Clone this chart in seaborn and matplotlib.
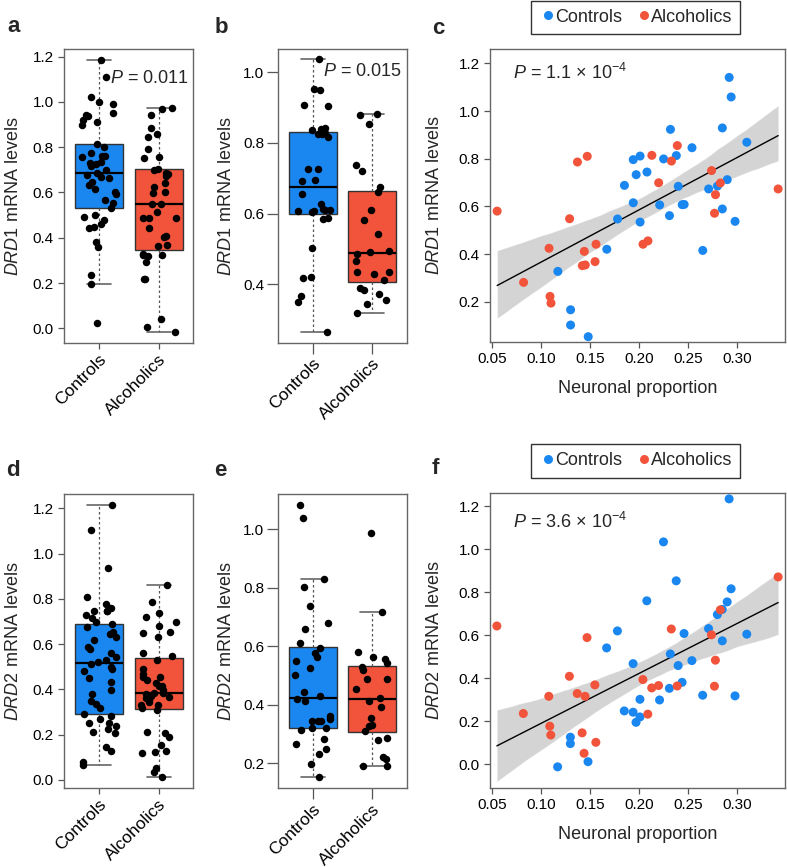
import numpy as np
import pandas as pd
import matplotlib
matplotlib.use("Agg")
import matplotlib.pyplot as plt
import seaborn as sns

BLUE = "#1a87f0"
RED = "#f2533b"
GROUPS = ["Controls", "Alcoholics"]

# box panels: mRNA levels per subject
a_controls = [1.186, 1.109, 1.024, 0.999, 0.990, 0.953, 0.943, 0.938, 0.920, 0.913, 0.898,
              0.813, 0.803, 0.773, 0.763, 0.761, 0.756, 0.736, 0.732, 0.728, 0.719, 0.700,
              0.686, 0.677, 0.670, 0.663, 0.648, 0.633, 0.614, 0.604, 0.594, 0.567, 0.552,
              0.530, 0.501, 0.493, 0.479, 0.461, 0.449, 0.442, 0.380, 0.361, 0.236, 0.194, 0.022]
a_alcoholics = [0.972, 0.970, 0.943, 0.884, 0.859, 0.847, 0.791, 0.756, 0.751, 0.705, 0.700,
                0.688, 0.682, 0.673, 0.641, 0.623, 0.604, 0.596, 0.549, 0.549, 0.513, 0.486,
                0.486, 0.486, 0.442, 0.409, 0.402, 0.368, 0.364, 0.326, 0.328, 0.324, 0.320,
                0.295, 0.216, 0.216, 0.040, 0.004, -0.018]
b_controls = [1.037, 0.952, 0.950, 0.908, 0.906, 0.843, 0.839, 0.836, 0.828, 0.824, 0.824,
              0.817, 0.725, 0.725, 0.694, 0.692, 0.657, 0.628, 0.612, 0.611, 0.609, 0.608,
              0.607, 0.604, 0.588, 0.586, 0.504, 0.420, 0.417, 0.367, 0.351, 0.266]
b_alcoholics = [0.881, 0.879, 0.853, 0.738, 0.722, 0.675, 0.662, 0.610, 0.582, 0.542, 0.495,
                0.491, 0.486, 0.467, 0.434, 0.434, 0.429, 0.412, 0.390, 0.384, 0.373, 0.356,
                0.344, 0.318]
d_controls = [1.215, 1.104, 0.938, 0.810, 0.777, 0.761, 0.746, 0.746, 0.746, 0.727, 0.717,
              0.696, 0.688, 0.677, 0.652, 0.645, 0.630, 0.618, 0.589, 0.579, 0.562, 0.542,
              0.530, 0.520, 0.511, 0.498, 0.489, 0.483, 0.449, 0.434, 0.398, 0.378, 0.350,
              0.336, 0.319, 0.292, 0.283, 0.268, 0.250, 0.250, 0.240, 0.225, 0.212, 0.206,
              0.144, 0.128, 0.077, 0.066]
d_alcoholics = [0.861, 0.788, 0.739, 0.721, 0.699, 0.682, 0.655, 0.648, 0.630, 0.559, 0.549,
                0.530, 0.490, 0.470, 0.456, 0.456, 0.440, 0.430, 0.417, 0.415, 0.398, 0.386,
                0.383, 0.378, 0.370, 0.368, 0.364, 0.355, 0.346, 0.331, 0.330, 0.319, 0.309,
                0.213, 0.209, 0.191, 0.155, 0.128, 0.125, 0.121, 0.054, 0.034, 0.012]
e_controls = [1.083, 1.038, 0.830, 0.804, 0.739, 0.679, 0.658, 0.610, 0.595, 0.578, 0.565,
              0.550, 0.527, 0.504, 0.443, 0.430, 0.419, 0.414, 0.363, 0.352, 0.345, 0.345,
              0.345, 0.322, 0.320, 0.314, 0.285, 0.268, 0.248, 0.231, 0.197, 0.152]
e_alcoholics = [0.989, 0.719, 0.582, 0.565, 0.556, 0.542, 0.530, 0.521, 0.487, 0.487, 0.454,
                0.425, 0.415, 0.394, 0.357, 0.331, 0.329, 0.312, 0.288, 0.280, 0.223, 0.214,
                0.191, 0.191]

# scatter panels: neuronal proportion vs mRNA level
ctrl_prop = [0.117, 0.130, 0.130, 0.148, 0.167, 0.178, 0.185, 0.194, 0.194, 0.197, 0.201,
             0.201, 0.208, 0.221, 0.225, 0.231, 0.232, 0.238, 0.240, 0.244, 0.246, 0.254,
             0.265, 0.271, 0.280, 0.285, 0.285, 0.290, 0.292, 0.294, 0.298, 0.310]
ctrl_drd1 = [0.327, 0.166, 0.102, 0.053, 0.420, 0.547, 0.688, 0.796, 0.615, 0.733, 0.811,
             0.534, 0.744, 0.606, 0.799, 0.561, 0.923, 0.813, 0.684, 0.607, 0.608, 0.846,
             0.415, 0.673, 0.685, 0.929, 0.589, 0.712, 1.141, 1.059, 0.537, 0.869]
ctrl_drd2 = [-0.012, 0.126, 0.096, 0.012, 0.541, 0.620, 0.248, 0.468, 0.242, 0.195, 0.302,
             0.220, 0.760, 0.299, 1.034, 0.353, 0.513, 0.853, 0.459, 0.381, 0.608, 0.482,
             0.321, 0.631, 0.696, 0.574, 0.720, 0.755, 1.234, 0.816, 0.318, 0.605]
alc_prop = [0.055, 0.082, 0.108, 0.109, 0.110, 0.129, 0.137, 0.142, 0.144, 0.145, 0.147,
            0.155, 0.156, 0.204, 0.209, 0.213, 0.220, 0.233, 0.239, 0.274, 0.277, 0.278,
            0.283, 0.342]
alc_drd1 = [0.580, 0.281, 0.424, 0.222, 0.194, 0.548, 0.786, 0.351, 0.411, 0.354, 0.810,
            0.368, 0.441, 0.441, 0.455, 0.814, 0.699, 0.790, 0.855, 0.750, 0.571, 0.649,
            0.698, 0.673]
alc_drd2 = [0.643, 0.236, 0.316, 0.177, 0.136, 0.409, 0.329, 0.146, 0.051, 0.316, 0.589,
            0.369, 0.102, 0.394, 0.233, 0.355, 0.366, 0.629, 0.364, 0.602, 0.363, 0.484,
            0.718, 0.871]

W, H = 787, 867


def rect(left, right, top, bottom):
    return [left / W, 1 - bottom / H, (right - left) / W, (bottom - top) / H]


def style_axes(ax, ticklen, pad):
    for sp in ax.spines.values():
        sp.set_visible(True)
        sp.set_color("#666666")
        sp.set_linewidth(1)
    ax.tick_params(direction="out", length=ticklen, width=0.9, color="#555555",
                   labelsize=11, pad=pad, labelcolor="black")


def box_panel(ax, controls, alcoholics, ylim, yticks, gene, ptext, ppos, ticklen, ypad):
    df = pd.DataFrame({
        "group": ["Controls"] * len(controls) + ["Alcoholics"] * len(alcoholics),
        "value": controls + alcoholics,
    })
    sns.boxplot(data=df, x="group", y="value", hue="group", order=GROUPS, hue_order=GROUPS,
                palette=[BLUE, RED], saturation=1, width=0.8, whis=1.5, showfliers=False,
                linecolor="#333333", linewidth=1, legend=False, ax=ax,
                medianprops=dict(color="black", linewidth=1.6),
                whiskerprops=dict(color="#555555", linestyle=(0, (2, 2)), linewidth=0.9),
                capprops=dict(color="#666666", linewidth=1.2))
    sns.stripplot(data=df, x="group", y="value", order=GROUPS, color="black", size=5.4,
                  jitter=0.3, ax=ax, zorder=3)
    style_axes(ax, ticklen, 3 if ticklen < 6 else 2)
    ax.set_xlim(-0.58, 1.58)
    ax.set_ylim(*ylim)
    ax.set_yticks(yticks)
    ax.set_yticklabels([f"{t:.1f}" for t in yticks])
    ax.set_xticks([0, 1])
    ax.set_xticklabels(GROUPS, rotation=45, ha="right", rotation_mode="anchor")
    ax.tick_params(axis="x", labelsize=12.5, pad=1.5)
    ax.set_xlabel("")
    ax.set_ylabel(rf"$\mathit{{{gene}}}$ mRNA levels", fontsize=13, labelpad=ypad)
    ax.text(ppos[0], ppos[1], ptext, transform=ax.transAxes, fontsize=13, ha="left", va="center")


def scatter_panel(ax, ctrl_y, alc_y, ylim, yticks, gene, ptext, ppos):
    df = pd.DataFrame({
        "prop": ctrl_prop + alc_prop,
        "level": ctrl_y + alc_y,
        "group": ["Controls"] * len(ctrl_prop) + ["Alcoholics"] * len(alc_prop),
    })
    sns.regplot(data=df, x="prop", y="level", scatter=False, ci=95, seed=7, color="black",
                line_kws=dict(linewidth=1), ax=ax)
    ax.collections[0].set_alpha(0.17)
    sns.scatterplot(data=df, x="prop", y="level", hue="group", hue_order=GROUPS,
                    palette=[BLUE, RED], s=42, edgecolor="none", ax=ax, zorder=3)
    h, l = ax.get_legend_handles_labels()
    leg = ax.legend(h, l, loc="center", bbox_to_anchor=(0.493, 1.11), ncol=2, frameon=True,
                    fancybox=False, edgecolor="black", fontsize=13, handletextpad=-0.1,
                    columnspacing=0.7, borderpad=0.45, handlelength=1.0)
    leg.get_frame().set_linewidth(1)
    style_axes(ax, 4, 3.5)
    ax.set_xlim(0.048, 0.349)
    ax.set_ylim(*ylim)
    ax.set_xticks([0.05, 0.10, 0.15, 0.20, 0.25, 0.30])
    ax.set_xticklabels(["0.05", "0.10", "0.15", "0.20", "0.25", "0.30"])
    ax.set_yticks(yticks)
    ax.set_yticklabels([f"{t:.1f}" for t in yticks])
    ax.set_xlabel("Neuronal proportion", fontsize=13, labelpad=10)
    ax.set_ylabel(rf"$\mathit{{{gene}}}$ mRNA levels", fontsize=13, labelpad=11)
    ax.text(ppos[0], ppos[1], ptext, transform=ax.transAxes, fontsize=13, ha="left", va="center")


sns.set_theme(style="ticks")
plt.rcParams["font.family"] = ["Liberation Sans", "DejaVu Sans"]
plt.rcParams["mathtext.fontset"] = "custom"
plt.rcParams["mathtext.rm"] = "Liberation Sans"
plt.rcParams["mathtext.it"] = "Liberation Sans:italic"
plt.rcParams["mathtext.bf"] = "Liberation Sans:bold"

np.random.seed(3)
fig = plt.figure(figsize=(W / 100, H / 100), dpi=100)

ax_a = fig.add_axes(rect(64.3, 193.3, 49, 343))
ax_b = fig.add_axes(rect(278.3, 406.7, 49.3, 342.7))
ax_c = fig.add_axes(rect(490.3, 785, 49.3, 341.7))
ax_d = fig.add_axes(rect(64.3, 193.3, 494, 788.3))
ax_e = fig.add_axes(rect(278.3, 406.7, 494.3, 788.3))
ax_f = fig.add_axes(rect(490, 785, 493.3, 787.7))

box_panel(ax_a, a_controls, a_alcoholics, (-0.065, 1.234), [0.0, 0.2, 0.4, 0.6, 0.8, 1.0, 1.2],
          "DRD1", r"$\mathit{P}$ = 0.011", (0.354, 0.901), 4.5, 8)
box_panel(ax_b, b_controls, b_alcoholics, (0.235, 1.065), [0.4, 0.6, 0.8, 1.0],
          "DRD1", r"$\mathit{P}$ = 0.015", (0.346, 0.924), 8, 6)
box_panel(ax_d, d_controls, d_alcoholics, (-0.037, 1.263), [0.0, 0.2, 0.4, 0.6, 0.8, 1.0, 1.2],
          "DRD2", "", (0.35, 0.9), 4.5, 8)
box_panel(ax_e, e_controls, e_alcoholics, (0.115, 1.12), [0.2, 0.4, 0.6, 0.8, 1.0],
          "DRD2", "", (0.35, 0.9), 8, 6)

scatter_panel(ax_c, ctrl_drd1, alc_drd1, (0.032, 1.259), [0.2, 0.4, 0.6, 0.8, 1.0, 1.2],
              "DRD1", r"$\mathit{P}$ = 1.1 × 10$^{-4}$", (0.077, 0.918))
scatter_panel(ax_f, ctrl_drd2, alc_drd2, (-0.109, 1.26), [0.0, 0.2, 0.4, 0.6, 0.8, 1.0, 1.2],
              "DRD2", r"$\mathit{P}$ = 3.6 × 10$^{-4}$", (0.077, 0.904))

for letter, x, y in [("a", 14, 27), ("b", 221, 27.5), ("c", 438, 28.3),
                     ("d", 13, 471), ("e", 220.5, 471), ("f", 435, 469)]:
    fig.text(x / W, 1 - y / H, letter, fontsize=16, fontweight="bold", ha="center", va="center")

fig.savefig("out.png", dpi=100)
